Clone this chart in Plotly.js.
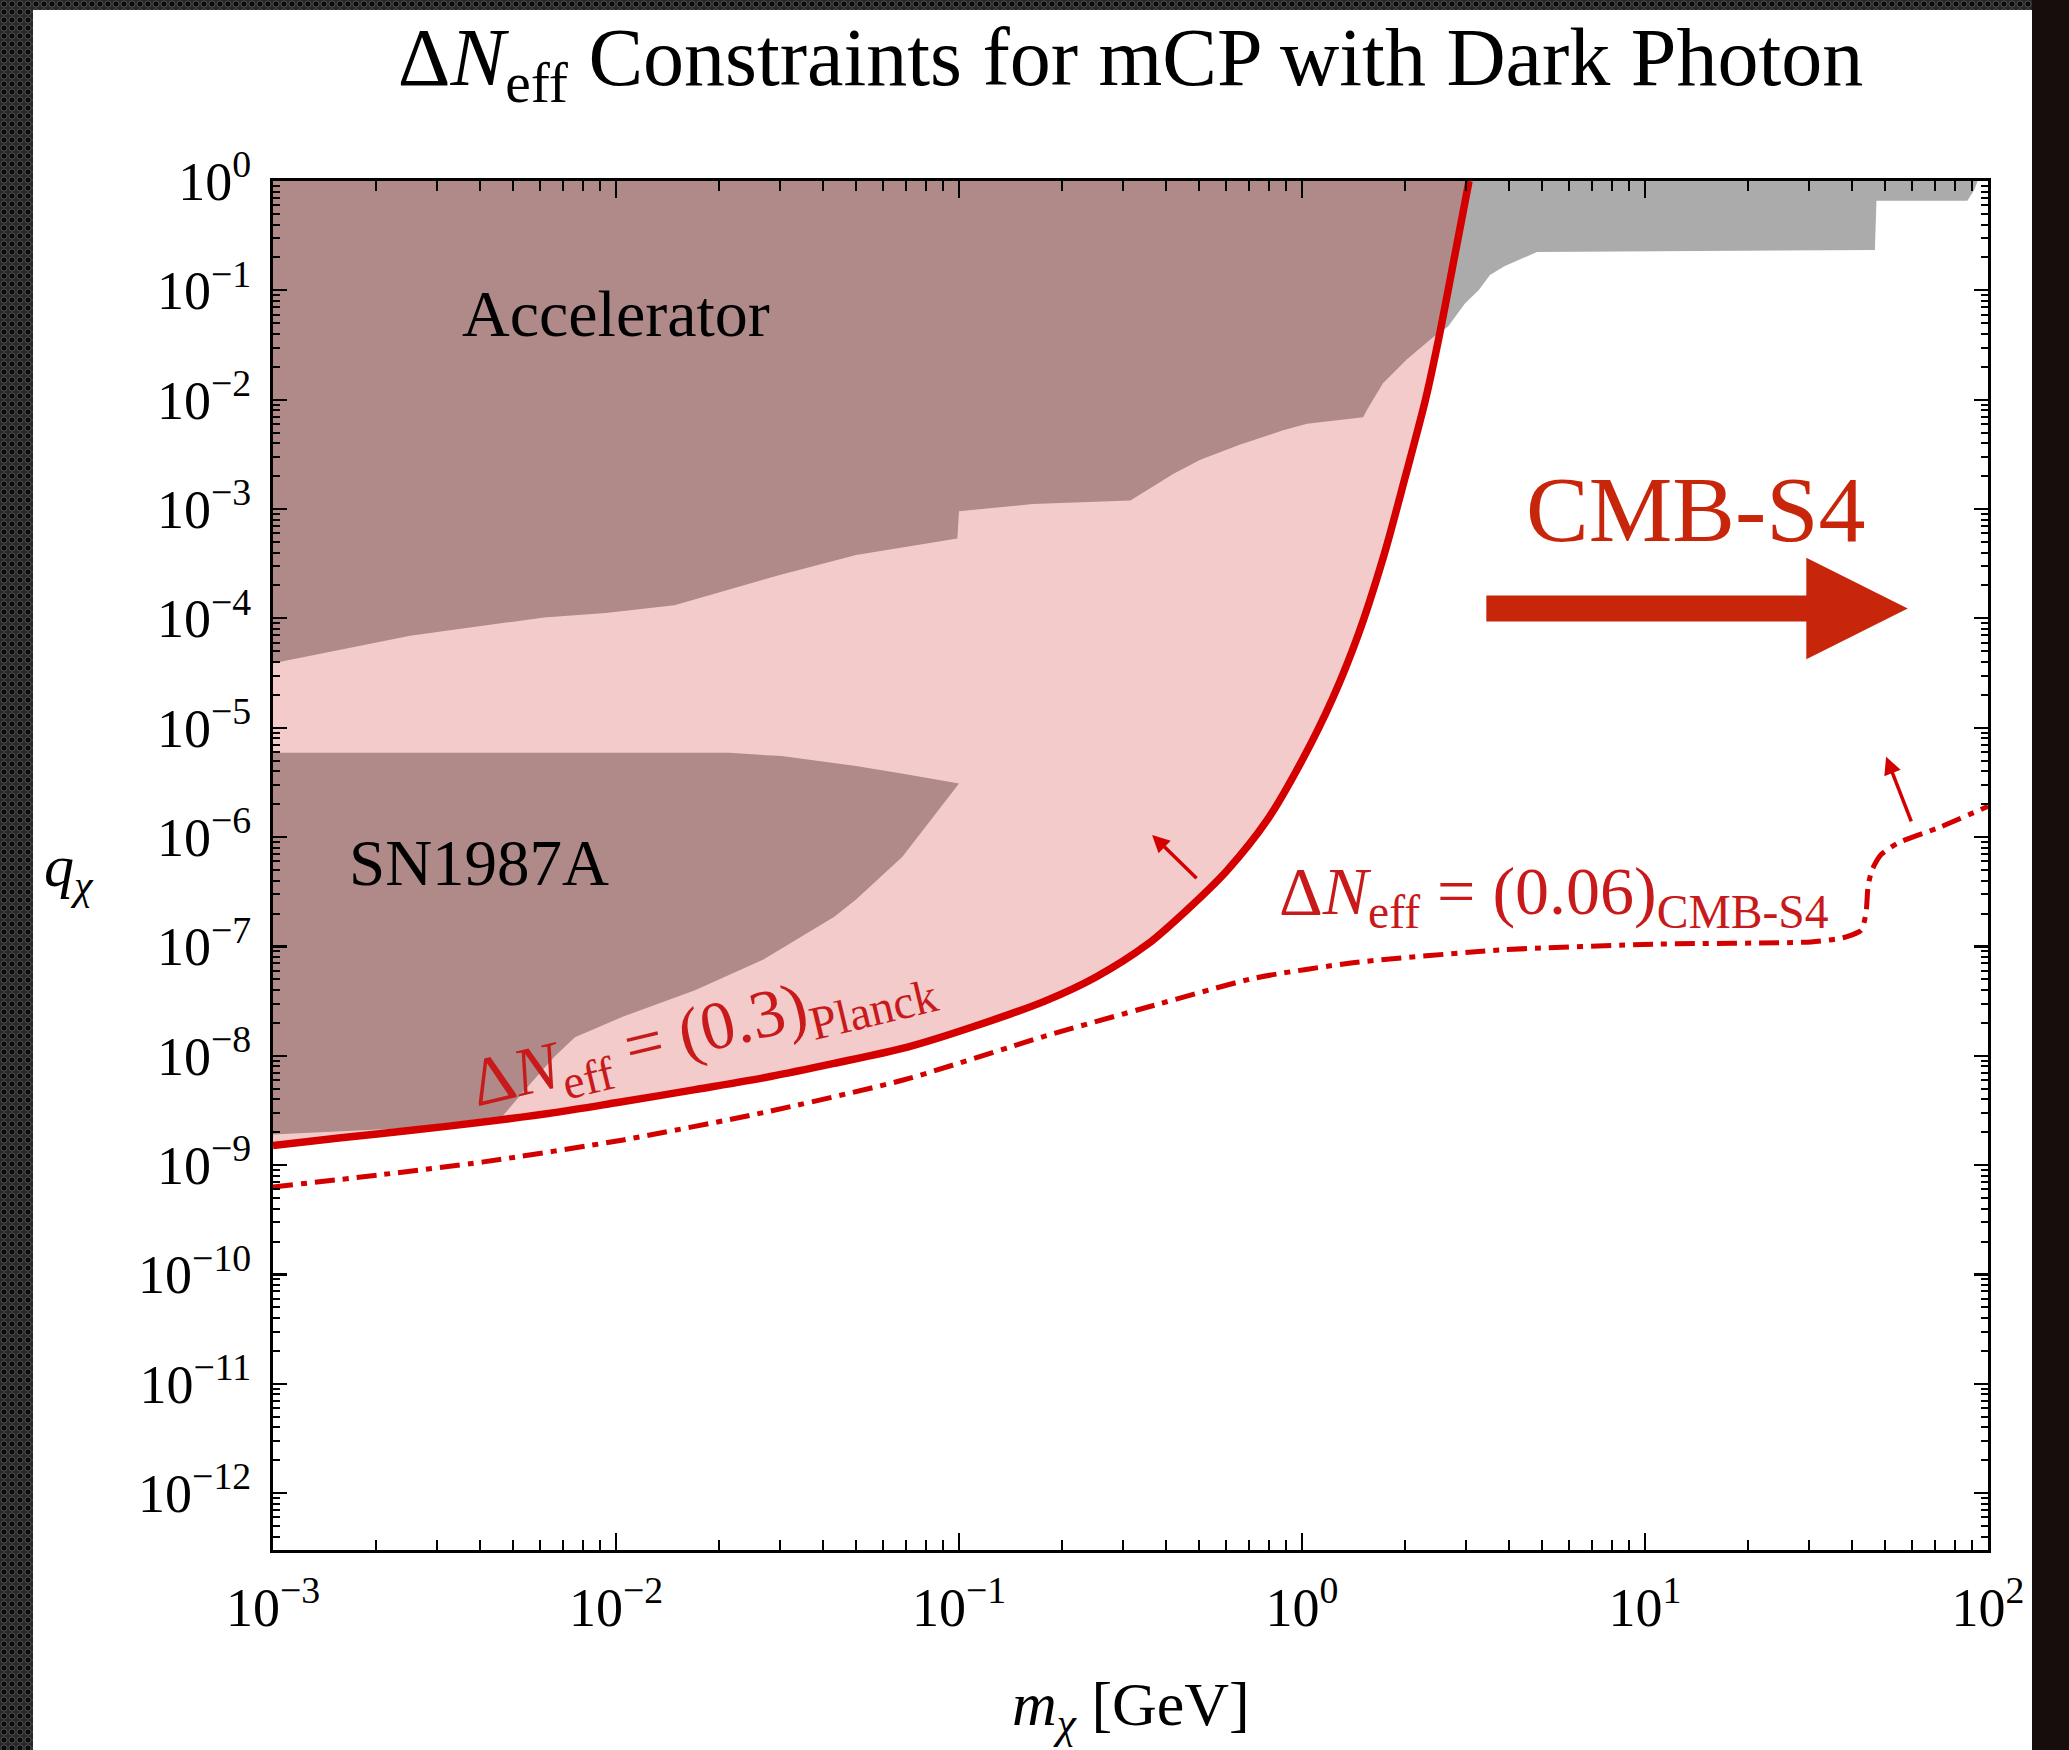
<!DOCTYPE html>
<html>
<head>
<meta charset="utf-8">
<script src="https://cdn.plot.ly/plotly-3.0.1.min.js"></script>
<style>
  html, body { margin: 0; padding: 0; }
  body {
    width: 2069px; height: 1750px; overflow: hidden; position: relative;
    background-color: #272727;
    background-image: radial-gradient(circle, #0c0c0c 0 2.3px, #4c4c4c 2.8px 3.4px, rgba(0,0,0,0) 3.8px);
    background-size: 8px 8px;
  }
  #rightstrip { position: absolute; left: 2032px; top: 0; width: 37px; height: 1750px; background: #160d0d; }
  #chart { position: absolute; left: 0; top: 0; width: 2069px; height: 1750px; }
</style>
</head>
<body>
<div id="rightstrip"></div>
<div id="chart"></div>
<script>
// ---------- data (m in GeV, q dimensionless) ----------
// Accelerator exclusion: lower boundary (region above it is excluded)
const accMass = [0.001, 0.00251, 0.00617, 0.00933, 0.0148, 0.0302, 0.0501, 0.0989, 0.1, 0.164,
                 0.316, 0.344, 0.421, 0.505, 0.661, 0.881, 1.035, 1.507, 1.549, 1.722,
                 2.023, 2.410, 2.667, 2.985, 3.273, 3.532, 3.890, 4.842, 46.8, 47.3,
                 87.1, 91.2, 93.3];
const accQ    = [3.89e-5, 6.92e-5, 1.02e-4, 1.12e-4, 1.32e-4, 2.51e-4, 3.80e-4, 5.37e-4, 9.55e-4, 1.11e-3,
                 1.20e-3, 1.41e-3, 2.09e-3, 2.82e-3, 3.89e-3, 5.25e-3, 6.03e-3, 6.92e-3, 8.13e-3, 0.0141,
                 0.0234, 0.0372, 0.0468, 0.0759, 0.100, 0.138, 0.166, 0.224, 0.234, 0.661,
                 0.661, 0.832, 1.0];

// SN1987A exclusion (closed outline)
const snMass = [0.001, 0.0214, 0.0304, 0.0501, 0.0687, 0.1, 0.0684, 0.0501, 0.0432, 0.0269,
                0.0170, 0.0105, 0.00759, 0.00661, 0.00543, 0.00468, 0.00251, 0.001];
const snQ    = [5.89e-6, 5.89e-6, 5.50e-6, 4.47e-6, 3.80e-6, 3.09e-6, 6.61e-7, 2.69e-7, 1.86e-7, 7.59e-8,
                3.98e-8, 2.29e-8, 1.48e-8, 9.77e-9, 4.90e-9, 2.82e-9, 2.19e-9, 1.91e-9];

// Delta N_eff = 0.3 (Planck) bound
const planckMass = [0.001, 0.00158, 0.00257, 0.00398, 0.00661, 0.01, 0.0170, 0.0282, 0.0432, 0.0708,
                    0.111, 0.178, 0.251, 0.355, 0.457, 0.603, 0.794, 1.0, 1.225, 1.462,
                    1.738, 1.995, 2.291, 2.512, 2.723, 3.069];
const planckQ    = [1.51e-9, 1.78e-9, 2.09e-9, 2.45e-9, 3.02e-9, 3.72e-9, 4.90e-9, 6.46e-9, 8.51e-9, 1.20e-8,
                    1.86e-8, 3.16e-8, 5.25e-8, 1.05e-7, 2.09e-7, 4.90e-7, 1.45e-6, 5.01e-6, 1.82e-5, 7.24e-5,
                    3.89e-4, 1.91e-3, 0.0100, 0.0380, 0.141, 1.0];

// Delta N_eff = 0.06 (CMB-S4) projection
const cmbMass = [0.001, 0.00204, 0.00411, 0.0105, 0.0269, 0.0692, 0.178, 0.360, 0.728, 1.406,
                 3.89, 10.96, 30.5, 37.8, 42.7, 44.1, 44.7, 45.9, 48.8, 55.0,
                 72.4, 100];
const cmbQ    = [6.31e-10, 8.13e-10, 1.07e-9, 1.70e-9, 3.02e-9, 6.03e-9, 1.51e-8, 2.82e-8, 5.13e-8, 7.08e-8,
                 9.33e-8, 1.05e-7, 1.10e-7, 1.20e-7, 1.41e-7, 2.04e-7, 3.55e-7, 5.01e-7, 6.92e-7, 8.91e-7,
                 1.23e-6, 1.91e-6];

// tick labels
const xTickVals = [1e-3, 1e-2, 1e-1, 1e0, 1e1, 1e2];
const xTickText = ['10<sup>\u22123</sup>', '10<sup>\u22122</sup>', '10<sup>\u22121</sup>', '10<sup>0</sup>', '10<sup>1</sup>', '10<sup>2</sup>'];
const yTickVals = [1e0, 1e-1, 1e-2, 1e-3, 1e-4, 1e-5, 1e-6, 1e-7, 1e-8, 1e-9, 1e-10, 1e-11, 1e-12];
const yTickText = ['10<sup>0</sup>', '10<sup>\u22121</sup>', '10<sup>\u22122</sup>', '10<sup>\u22123</sup>', '10<sup>\u22124</sup>',
                   '10<sup>\u22125</sup>', '10<sup>\u22126</sup>', '10<sup>\u22127</sup>', '10<sup>\u22128</sup>',
                   '10<sup>\u22129</sup>', '10<sup>\u221210</sup>', '10<sup>\u221211</sup>', '10<sup>\u221212</sup>'];

// ---------- helpers ----------
const lg = Math.log10;
function minorTicks(kmin, kmax) {
  const out = [];
  for (let k = kmin; k <= kmax; k++) for (let j = 2; j <= 9; j++) out.push(j * Math.pow(10, k));
  return out;
}
function interpLog(xs, ys, lx) {
  for (let i = 0; i < xs.length - 1; i++) {
    const a = lg(xs[i]), b = lg(xs[i + 1]);
    if (lx >= a && lx <= b) {
      if (b === a) return lg(ys[i + 1]);
      const t = (lx - a) / (b - a);
      return lg(ys[i]) + t * (lg(ys[i + 1]) - lg(ys[i]));
    }
  }
  return null;
}
// inside region above the Planck curve?
function abovePlanck(lx, ly) {
  if (lx > lg(planckMass[planckMass.length - 1])) return false;
  const p = interpLog(planckMass, planckQ, lx);
  return p !== null && ly >= p;
}
// Accelerator region restricted to the Planck-excluded region
function clippedAccelerator() {
  const px = [], py = [];
  let cross = null;
  for (let i = 0; i < accMass.length; i++) {
    const lx = lg(accMass[i]), ly = lg(accQ[i]);
    if (abovePlanck(lx, ly)) { px.push(lx); py.push(ly); }
    else if (i > 0) {
      let ax = lg(accMass[i - 1]), ay = lg(accQ[i - 1]), bx = lx, by = ly;
      for (let it = 0; it < 40; it++) {
        const mx = (ax + bx) / 2, my = (ay + by) / 2;
        if (abovePlanck(mx, my)) { ax = mx; ay = my; } else { bx = mx; by = my; }
      }
      cross = [ax, ay]; px.push(ax); py.push(ay);
      break;
    }
  }
  for (let j = 0; j < planckMass.length; j++) {
    const lx = lg(planckMass[j]), ly = lg(planckQ[j]);
    if (cross && lx > cross[0] && ly > cross[1]) { px.push(lx); py.push(ly); }
  }
  px.push(lg(planckMass[0])); py.push(0);
  return { x: px.map(v => Math.pow(10, v)), y: py.map(v => Math.pow(10, v)) };
}

// ---------- colours ----------
const PINK = '#f3cbcb', MAUVE = '#b08989', GREY = '#ababab', RED = '#d40000', ORANGE_RED = '#c8260b';

const clip = clippedAccelerator();
const fillBase = { type: 'scatter', mode: 'lines', fill: 'toself', line: { width: 0 }, hoverinfo: 'skip', showlegend: false };

const traces = [
  Object.assign({}, fillBase, { name: 'Accelerator (outside Planck)', x: accMass.concat([accMass[0]]), y: accQ.concat([1]), fillcolor: GREY }),
  Object.assign({}, fillBase, { name: 'Planck excluded', x: planckMass.concat([planckMass[0]]), y: planckQ.concat([1]), fillcolor: PINK }),
  Object.assign({}, fillBase, { name: 'Accelerator', x: clip.x, y: clip.y, fillcolor: MAUVE }),
  Object.assign({}, fillBase, { name: 'SN1987A', x: snMass, y: snQ, fillcolor: MAUVE }),
  { type: 'scatter', mode: 'lines', name: 'Planck', x: planckMass, y: planckQ,
    line: { color: RED, width: 7.5, shape: 'spline', smoothing: 0.8 }, hoverinfo: 'skip', showlegend: false },
  { type: 'scatter', mode: 'lines', name: 'CMB-S4', x: cmbMass, y: cmbQ,
    line: { color: RED, width: 5, dash: '20px,8px,6px,8px', shape: 'spline', smoothing: 0.6 }, hoverinfo: 'skip', showlegend: false }
];

const FONT = 'Liberation Serif, Times New Roman, serif';

const layout = {
  width: 2069, height: 1750,
  margin: { l: 273, r: 81, t: 181, b: 200, pad: 0 },
  paper_bgcolor: 'rgba(0,0,0,0)',
  plot_bgcolor: '#ffffff',
  font: { family: FONT, color: '#000000' },
  showlegend: false,
  title: {
    text: '\u0394<i>N</i><sub>eff</sub> Constraints for mCP with Dark Photon',
    font: { family: FONT, size: 82, color: '#000000' },
    xref: 'paper', x: 0.5, xanchor: 'center',
    yref: 'container', y: 0.968, yanchor: 'middle'
  },
  xaxis: {
    type: 'log', range: [-3, 2], autorange: false,
    tickmode: 'array', tickvals: xTickVals, ticktext: xTickText,
    ticks: 'inside', ticklen: 17, tickwidth: 2.2, tickcolor: '#000',
    showline: true, linewidth: 3, linecolor: '#000', mirror: 'ticks',
    showgrid: false, zeroline: false,
    tickfont: { family: FONT, size: 54, color: '#000' },
    ticklabelstandoff: 8,
    minor: { tickmode: 'array', tickvals: minorTicks(-3, 1), ticks: 'inside', ticklen: 10, tickwidth: 2, tickcolor: '#000', showgrid: false }
  },
  yaxis: {
    type: 'log', range: [-12.52, 0], autorange: false,
    tickmode: 'array', tickvals: yTickVals, ticktext: yTickText,
    ticks: 'inside', ticklen: 14, tickwidth: 2.2, tickcolor: '#000',
    showline: true, linewidth: 3, linecolor: '#000', mirror: 'ticks',
    showgrid: false, zeroline: false,
    tickfont: { family: FONT, size: 54, color: '#000' },
    ticklabelstandoff: 8,
    minor: { tickmode: 'array', tickvals: minorTicks(-13, -1), ticks: 'inside', ticklen: 7, tickwidth: 2, tickcolor: '#000', showgrid: false }
  },
  shapes: [
    { type: 'rect', xref: 'paper', yref: 'paper', x0: -0.13994, x1: 1.02566, y0: -0.16, y1: 1.12491,
      fillcolor: '#ffffff', line: { width: 0 }, layer: 'below' }
  ],
  annotations: [
    // axis titles
    { xref: 'paper', yref: 'paper', x: 0.5003, y: -0.1161, xanchor: 'center', yanchor: 'middle', showarrow: false,
      text: '<i>m</i><sub><i>\u03c7</i></sub> [GeV]', font: { family: FONT, size: 62, color: '#000' } },
    { xref: 'paper', yref: 'paper', x: -0.119, y: 0.496, xanchor: 'center', yanchor: 'middle', showarrow: false,
      text: '<i>q</i><sub><i>\u03c7</i></sub>', font: { family: FONT, size: 60, color: '#000' } },
    // region labels (log10 coordinates on log axes)
    { xref: 'x', yref: 'y', x: -2.0, y: -1.216, showarrow: false, text: 'Accelerator',
      font: { family: FONT, size: 66, color: '#000' } },
    { xref: 'x', yref: 'y', x: -2.40, y: -6.24, showarrow: false, text: 'SN1987A',
      font: { family: FONT, size: 65, color: '#000' } },
    { xref: 'x', yref: 'y', x: -1.749, y: -7.80, showarrow: false, textangle: -13.5,
      text: '\u0394<i>N</i><sub>eff</sub> = (0.3)<sub>Planck</sub>', font: { family: FONT, size: 68, color: '#c81a1a' } },
    { xref: 'x', yref: 'y', x: -0.073, y: -6.53, xanchor: 'left', showarrow: false,
      text: '\u0394<i>N</i><sub>eff</sub> = (0.06)<sub>CMB-S4</sub>', font: { family: FONT, size: 68, color: '#c81a1a' } },
    { xref: 'x', yref: 'y', x: 1.149, y: -3.0, showarrow: false, text: 'CMB-S4',
      font: { family: FONT, size: 94, color: ORANGE_RED } },
    // arrows
    { xref: 'x', yref: 'y', axref: 'x', ayref: 'y', x: 1.766, y: -3.91, ax: 0.533, ay: -3.91, text: '',
      showarrow: true, arrowhead: 2, arrowsize: 0.78, arrowwidth: 26, arrowcolor: ORANGE_RED, standoff: 0, startstandoff: 0 },
    { xref: 'x', yref: 'y', axref: 'x', ayref: 'y', x: -0.437, y: -5.98, ax: -0.303, ay: -6.39, text: '',
      showarrow: true, arrowhead: 2, arrowsize: 1, arrowwidth: 3.5, arrowcolor: RED, standoff: 0 },
    { xref: 'x', yref: 'y', axref: 'x', ayref: 'y', x: 1.703, y: -5.265, ax: 1.778, ay: -5.87, text: '',
      showarrow: true, arrowhead: 2, arrowsize: 1, arrowwidth: 3.5, arrowcolor: RED, standoff: 0 }
  ]
};

Plotly.newPlot('chart', traces, layout, { displayModeBar: false, staticPlot: true });
</script>
</body>
</html>
